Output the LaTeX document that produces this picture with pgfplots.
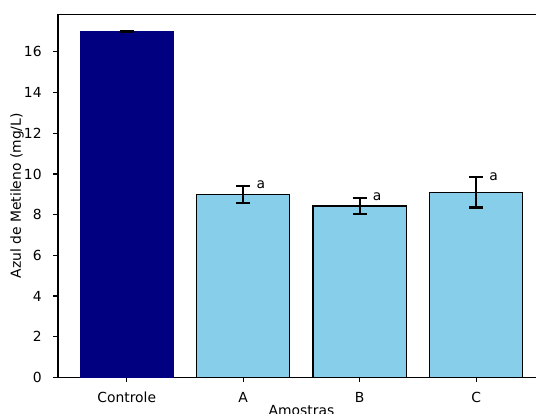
\documentclass[border=0pt]{standalone}
\usepackage{pgfplots}
\pgfplotsset{compat=1.18}
\usepackage{fontspec}
\setmainfont{DejaVu Sans}
\definecolor{navyc}{RGB}{0,0,128}
\definecolor{skyb}{RGB}{135,206,235}
\begin{document}
\begin{tikzpicture}
\useasboundingbox (-41.76pt,-26.4pt) rectangle (344.2pt,271.7pt);
\clip (-41.76pt,-26.4pt) rectangle (344.2pt,271.7pt);
\begin{axis}[
  at={(0,0)}, anchor=south west,
  scale only axis, width=350.6pt, height=261.4pt,
  xmin=-0.59, xmax=3.59, ymin=0, ymax=17.85,
  ybar, bar width=0.8, bar shift=0pt,
  xtick={0,1,2,3}, xticklabels={Controle,A,B,C},
  ytick={0,2,4,6,8,10,12,14,16},
  tick align=outside, tick pos=left,
  major tick length=3.5pt,
  every tick/.style={black, line width=0.8pt},
  axis line style={line width=0.8pt},
  font=\fontsize{10pt}{12pt}\selectfont,
  /pgf/number format/assume math mode=true,
  ticklabel style={font=\fontsize{10pt}{12pt}\selectfont},
  xticklabel style={anchor=north, inner sep=0pt, yshift=-6.8pt},
  yticklabel style={anchor=east, inner sep=0pt, xshift=-8.1pt},
  every axis y label/.style={at={(axis description cs:0,0.5)}, xshift=-29.5pt, rotate=90, anchor=center},
  every axis x label/.style={at={(axis description cs:0.5,0)}, yshift=-24pt, anchor=center},
  xlabel={Amostras}, ylabel={Azul de Metileno (mg/L)},
  error bars/y dir=both, error bars/y explicit,
  error bars/error bar style={black, line width=1.5pt},
  error bars/error mark options={black, line width=1.5pt, mark size=5pt, rotate=90},
  clip=false,
]
\addplot[fill=navyc, draw=navyc, line width=0.5pt] coordinates {(0,17.0) +- (0,0.02)};
\addplot[fill=skyb, draw=black, line width=1pt] coordinates {
  (1,9.00) +- (0,0.42)
  (2,8.42) +- (0,0.41)
  (3,9.09) +- (0,0.74)
};
\node[anchor=west, inner sep=0pt, xshift=1pt] at (axis cs:1.1,9.47) {a};
\node[anchor=west, inner sep=0pt, xshift=1pt] at (axis cs:2.1,8.88) {a};
\node[anchor=west, inner sep=0pt, xshift=1pt] at (axis cs:3.1,9.88) {a};
\end{axis}
\end{tikzpicture}
\end{document}
